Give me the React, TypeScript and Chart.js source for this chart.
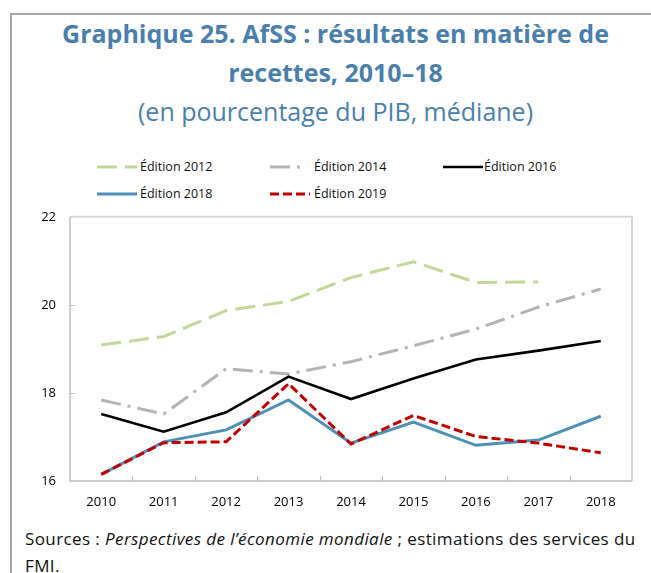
import React, { useEffect, useRef } from "react";
import { Chart, registerables } from "chart.js";

Chart.register(...registerables);

const years = ["2010", "2011", "2012", "2013", "2014", "2015", "2016", "2017", "2018"];
const seriesNames = ["Édition 2012", "Édition 2014", "Édition 2016", "Édition 2018", "Édition 2019"];
const ed2012 = [19.09, 19.28, 19.87, 20.08, 20.62, 20.98, 20.51, 20.52, null];
const ed2014 = [17.84, 17.52, 18.55, 18.43, 18.71, 19.07, 19.45, 19.95, 20.36];
const ed2016 = [17.52, 17.12, 17.56, 18.37, 17.86, 18.33, 18.76, 18.96, 19.18];
const ed2018 = [16.15, 16.89, 17.16, 17.84, 16.86, 17.34, 16.81, 16.93, 17.47];
const ed2019 = [16.15, 16.87, 16.89, 18.21, 16.84, 17.49, 17.01, 16.86, 16.64];
const yTicks = [16, 18, 20, 22];

const seriesValues = [ed2012, ed2014, ed2016, ed2018, ed2019];
const styles = [
  { color: "#c4d79b", dash: [20, 8], width: 3 },
  { color: "#b4b4b4", dash: [20, 7, 3, 7], width: 3 },
  { color: "#000000", dash: [], width: 2.6 },
  { color: "#4f90b7", dash: [], width: 3 },
  { color: "#c00000", dash: [9, 4], width: 3 },
];

const FONT = "'Open Sans', 'Noto Sans', sans-serif";
const TITLE_COLOR = "#4a7fac";

const frameTicks = {
  id: "frameTicks",
  beforeDatasetsDraw(chart: any) {
    const { ctx, chartArea } = chart;
    const { left, right, top, bottom } = chartArea;
    ctx.save();
    ctx.lineWidth = 2;
    ctx.strokeStyle = "#d6d6d6";
    ctx.beginPath();
    ctx.moveTo(left, top);
    ctx.lineTo(right, top);
    ctx.lineTo(right, bottom);
    ctx.stroke();
    ctx.strokeStyle = "#bdbdbd";
    ctx.lineWidth = 1.5;
    ctx.beginPath();
    ctx.moveTo(left, top);
    ctx.lineTo(left, bottom);
    ctx.lineTo(right, bottom);
    ctx.stroke();
    const xs = chart.scales.x;
    const ys = chart.scales.y;
    ctx.lineWidth = 1;
    ctx.beginPath();
    for (let i = 1; i < years.length; i++) {
      const px = Math.round((xs.getPixelForValue(i - 1) + xs.getPixelForValue(i)) / 2) + 0.5;
      ctx.moveTo(px, bottom);
      ctx.lineTo(px, bottom - 5);
    }
    yTicks.slice(1, -1).forEach((v) => {
      const py = Math.round(ys.getPixelForValue(v)) + 0.5;
      ctx.moveTo(left, py);
      ctx.lineTo(left + 5, py);
    });
    ctx.stroke();
    ctx.restore();
  },
};

function LegendSample({ idx, w }: { idx: number; w: number }) {
  const s = styles[idx];
  return (
    <svg width={w} height={20} style={{ display: "block" }}>
      <line
        x1={0}
        y1={10}
        x2={w}
        y2={10}
        stroke={s.color}
        strokeWidth={s.width}
        strokeDasharray={s.dash.length ? s.dash.join(" ") : undefined}
      />
    </svg>
  );
}

const legendPos = [
  { sx: 97, sw: 40, tx: 140, y: 157 },
  { sx: 270, sw: 32, tx: 314, y: 157 },
  { sx: 443, sw: 40, tx: 484, y: 157 },
  { sx: 97, sw: 40, tx: 140, y: 184 },
  { sx: 270, sw: 40, tx: 314, y: 184 },
];

export default function App() {
  const ref = useRef<HTMLCanvasElement>(null);
  useEffect(() => {
    if (!ref.current) return;
    const chart = new Chart(ref.current, {
      type: "line",
      data: {
        labels: years,
        datasets: seriesValues.map((vals, i) => ({
          label: seriesNames[i],
          data: vals,
          borderColor: styles[i].color,
          backgroundColor: styles[i].color,
          borderWidth: styles[i].width,
          borderDash: styles[i].dash,
          pointRadius: 0,
          tension: 0,
          fill: false,
          order: 5 - i,
        })),
      },
      options: {
        animation: false,
        responsive: false,
        devicePixelRatio: 1,
        layout: { padding: { top: 0, right: 19, left: 0, bottom: 0 } },
        plugins: { legend: { display: false }, title: { display: false }, tooltip: { enabled: false } },
        scales: {
          x: {
            type: "category",
            offset: true,
            grid: { display: false, drawTicks: false },
            border: { display: false },
            ticks: { color: "#000", font: { family: FONT, size: 13 }, padding: 13, maxRotation: 0, autoSkip: false },
            afterFit: (s: any) => {
              s.height = 39;
            },
          },
          y: {
            min: 16,
            max: 22,
            grid: { display: false, drawTicks: false },
            border: { display: false },
            afterBuildTicks: (s: any) => {
              s.ticks = yTicks.map((v) => ({ value: v }));
            },
            ticks: { color: "#000", font: { family: FONT, size: 13 }, padding: 14 },
            afterFit: (s: any) => {
              s.width = 70;
            },
          },
        },
      },
      plugins: [frameTicks],
    });
    return () => chart.destroy();
  }, []);

  const textBase: React.CSSProperties = {
    position: "absolute",
    left: 0,
    width: 671,
    textAlign: "center",
    color: TITLE_COLOR,
    fontFamily: FONT,
    fontSize: 25,
    lineHeight: "30px",
    whiteSpace: "nowrap",
  };

  return (
    <div style={{ position: "absolute", left: 0, top: 0, width: 651, height: 573, overflow: "hidden", background: "#fff" }}>
      <div
        style={{
          position: "absolute",
          left: 10,
          top: 13,
          width: 700,
          height: 600,
          borderTop: "2px solid #a6a6a6",
          borderLeft: "2px solid #a6a6a6",
        }}
      />
      <div style={{ ...textBase, top: 17.6, fontWeight: 700 }}>Graphique 25. AfSS : résultats en matière de</div>
      <div style={{ ...textBase, top: 56.8, fontWeight: 700 }}>recettes, 2010–18</div>
      <div style={{ ...textBase, top: 96.3, fontWeight: 400 }}>(en pourcentage du PIB, médiane)</div>
      {legendPos.map((p, i) => (
        <React.Fragment key={i}>
          <div style={{ position: "absolute", left: p.sx, top: p.y }}>
            <LegendSample idx={i} w={p.sw} />
          </div>
          <div
            style={{
              position: "absolute",
              left: p.tx,
              top: p.y,
              lineHeight: "20px",
              fontSize: 12.5,
              fontFamily: FONT,
              color: "#111",
              whiteSpace: "nowrap",
            }}
          >
            {seriesNames[i]}
          </div>
        </React.Fragment>
      ))}
      <canvas ref={ref} width={651} height={325} style={{ position: "absolute", left: 0, top: 195, width: 651, height: 325 }} />
      <div
        style={{
          position: "absolute",
          left: 25,
          top: 524.5,
          fontFamily: FONT,
          fontSize: 17,
          letterSpacing: 0.4,
          lineHeight: "27px",
          color: "#111",
          whiteSpace: "nowrap",
        }}
      >
        Sources : <i>Perspectives de l’économie mondiale</i> ; estimations des services du
        <br />
        FMI.
      </div>
    </div>
  );
}
